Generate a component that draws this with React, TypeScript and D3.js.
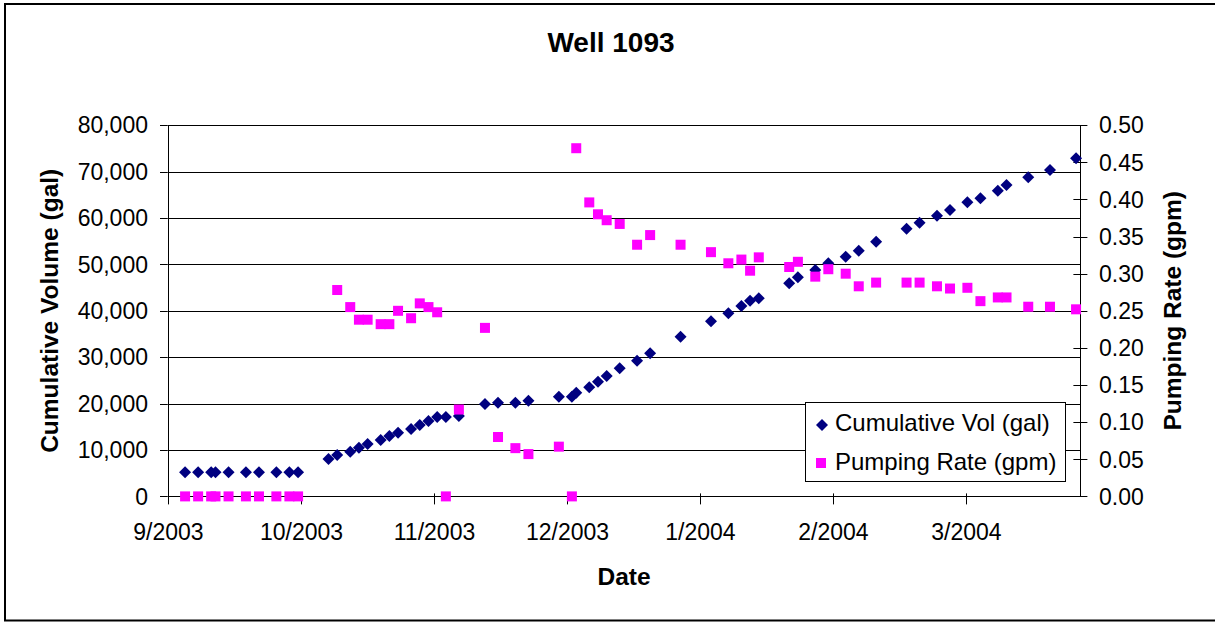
import React from "react";
import * as d3 from "d3";

// Sampling dates for Well 1093
const sampleDates: string[] = [
  "2003-09-05", "2003-09-08", "2003-09-11", "2003-09-12", "2003-09-15",
  "2003-09-19", "2003-09-22", "2003-09-26", "2003-09-29", "2003-10-01",
  "2003-10-08", "2003-10-10", "2003-10-13", "2003-10-15", "2003-10-17",
  "2003-10-20", "2003-10-22", "2003-10-24", "2003-10-27", "2003-10-29",
  "2003-10-31", "2003-11-02", "2003-11-04", "2003-11-07", "2003-11-13",
  "2003-11-16", "2003-11-20", "2003-11-23", "2003-11-30", "2003-12-03",
  "2003-12-04", "2003-12-07", "2003-12-09", "2003-12-11", "2003-12-14",
  "2003-12-18", "2003-12-21", "2003-12-28", "2004-01-04", "2004-01-08",
  "2004-01-11", "2004-01-13", "2004-01-15", "2004-01-22", "2004-01-24",
  "2004-01-28", "2004-01-31", "2004-02-04", "2004-02-07", "2004-02-11",
  "2004-02-18", "2004-02-21", "2004-02-25", "2004-02-28", "2004-03-03",
  "2004-03-06", "2004-03-10", "2004-03-12", "2004-03-17", "2004-03-22",
  "2004-03-28",
];

// Cumulative Vol (gal)
const cumulativeVolume: number[] = [
  5200, 5200, 5200, 5200, 5200, 5200, 5200, 5200, 5200, 5200,
  8060, 8920, 9630, 10490, 11290, 12150, 13010, 13730, 14520, 15380,
  16250, 17100, 17100, 17330, 19900, 20190, 20190, 20620, 21490, 21490,
  22350, 23510, 24720, 25950, 27600, 29240, 30840, 34420, 37730, 39460,
  41030, 42170, 42690, 45920, 47220, 48790, 50230, 51660, 52950, 54890,
  57690, 58980, 60490, 61720, 63380, 64240, 65880, 67110, 68770, 70340,
  72860,
];

// Pumping Rate (gpm); null where no rate was computed
const pumpingRate: (number | null)[] = [
  0, 0, 0, 0, 0, 0, 0, 0, 0, 0,
  null, 0.278, 0.255, 0.238, 0.238, 0.232, 0.232, 0.25, 0.24, 0.26,
  0.255, 0.248, 0, 0.117, 0.227, 0.08, 0.065, 0.057, 0.067, 0,
  0.469, 0.396, 0.38, 0.372, 0.367, 0.339, 0.352, 0.339, 0.329, 0.314,
  0.319, 0.304, 0.322, 0.309, 0.316, 0.296, 0.306, 0.3, 0.283, 0.288,
  0.288, 0.288, 0.283, 0.28, 0.281, 0.263, 0.268, 0.268, 0.2555, 0.2555,
  0.252,
];

const dateTickLabels: string[] = ["9/2003", "10/2003", "11/2003", "12/2003", "1/2004", "2/2004", "3/2004"];
const volumeTicks: number[] = [0, 10000, 20000, 30000, 40000, 50000, 60000, 70000, 80000];
const rateTicks: number[] = [0, 0.05, 0.1, 0.15, 0.2, 0.25, 0.3, 0.35, 0.4, 0.45, 0.5];

const AXIS_START = Date.UTC(2003, 8, 1);
const AXIS_SPAN_DAYS = 210;
const TICK_STEP_DAYS = 30.6;

const dayOffset = (s: string) => (Date.parse(s + "T00:00:00Z") - AXIS_START) / 86400000;

const W = 1215;
const H = 623;
const plot = { left: 167.7, right: 1080.4, top: 125.2, bottom: 496.4 };
const FONT = "Arial, 'Liberation Sans', Helvetica, sans-serif";
const NAVY = "#000080";
const MAGENTA = "#FF00FF";
const TICK_FONT = 23;
const LABEL_FONT = 24.5;

const diamond = (r: number) => `M0,${-r}L${r},0L0,${r}L${-r},0Z`;

export default function App() {
  const x = d3.scaleLinear().domain([0, AXIS_SPAN_DAYS]).range([plot.left, plot.right]);
  const yVol = d3.scaleLinear().domain([0, 80000]).range([plot.bottom, plot.top]);
  const yRate = d3.scaleLinear().domain([0, 0.5]).range([plot.bottom, plot.top]);
  const fmtVol = d3.format(",");
  const fmtRate = d3.format(".2f");

  const points = sampleDates.map((d, i) => ({
    day: dayOffset(d),
    vol: cumulativeVolume[i],
    rate: pumpingRate[i],
  }));

  const cx = (plot.left + plot.right) / 2;
  const cy = (plot.top + plot.bottom) / 2;
  const snap = (v: number) => Math.round(v) + 0.5;

  return (
    <svg width={W} height={H} style={{ position: "absolute", left: 0, top: 0, background: "#fff" }} fontFamily={FONT}>
      <rect x={0} y={0} width={W} height={H} fill="#fff" />
      {/* chart frame */}
      <rect x={5} y={4} width={1215} height={616.5} fill="none" stroke="#000" strokeWidth={2} />

      <text x={611} y={52} textAnchor="middle" fontSize={28} fontWeight="bold">Well 1093</text>

      {/* horizontal gridlines */}
      {volumeTicks.filter((t) => t > 0).map((t) => (
        <line key={`g${t}`} x1={plot.left} x2={plot.right} y1={snap(yVol(t))} y2={snap(yVol(t))} stroke="#000" strokeWidth={1} />
      ))}

      {/* left axis */}
      <line x1={snap(plot.left)} x2={snap(plot.left)} y1={plot.top} y2={plot.bottom} stroke="#000" />
      {volumeTicks.map((t) => (
        <g key={`l${t}`}>
          <line x1={160} x2={plot.left} y1={snap(yVol(t))} y2={snap(yVol(t))} stroke="#000" />
          <text x={148} y={yVol(t)} dy="0.36em" textAnchor="end" fontSize={TICK_FONT}>{fmtVol(t)}</text>
        </g>
      ))}

      {/* right axis */}
      <line x1={snap(plot.right)} x2={snap(plot.right)} y1={plot.top} y2={plot.bottom} stroke="#000" />
      {rateTicks.map((t) => (
        <g key={`r${t}`}>
          <line x1={plot.right - 7} x2={plot.right + 7} y1={snap(yRate(t))} y2={snap(yRate(t))} stroke="#000" />
          <text x={1099} y={yRate(t)} dy="0.36em" textAnchor="start" fontSize={TICK_FONT}>{fmtRate(t)}</text>
        </g>
      ))}

      {/* bottom axis */}
      <line x1={plot.left} x2={plot.right} y1={snap(plot.bottom)} y2={snap(plot.bottom)} stroke="#000" />
      {dateTickLabels.map((lab, i) => {
        const px = snap(x(i * TICK_STEP_DAYS));
        return (
          <g key={lab}>
            <line x1={px} x2={px} y1={plot.bottom - 3} y2={plot.bottom + 8} stroke="#000" />
            <text x={px} y={540} textAnchor="middle" fontSize={TICK_FONT}>{lab}</text>
          </g>
        );
      })}

      {/* axis titles */}
      <text x={cx} y={585} textAnchor="middle" fontSize={LABEL_FONT} fontWeight="bold">Date</text>
      <text transform={`translate(49,${cy}) rotate(-90)`} textAnchor="middle" dy="0.36em" fontSize={LABEL_FONT} fontWeight="bold">
        Cumulative Volume (gal)
      </text>
      <text transform={`translate(1172,${cy}) rotate(-90)`} textAnchor="middle" dy="0.36em" fontSize={LABEL_FONT} fontWeight="bold">
        Pumping Rate (gpm)
      </text>

      {/* Cumulative volume series */}
      {points.map((p, i) => (
        <path key={`v${i}`} d={diamond(6)} transform={`translate(${x(p.day)},${yVol(p.vol)})`} fill={NAVY} />
      ))}

      {/* Pumping rate series */}
      {points.filter((p) => p.rate !== null).map((p, i) => (
        <rect key={`p${i}`} x={x(p.day) - 5} y={yRate(p.rate as number) - 5} width={10} height={10} fill={MAGENTA} />
      ))}

      {/* legend */}
      <g>
        <rect x={805.5} y={402.5} width={260} height={79} fill="#fff" stroke="#000" strokeWidth={1} />
        <path d={diamond(6)} transform="translate(822,425)" fill={NAVY} />
        <text x={835} y={431} fontSize={24}>Cumulative Vol (gal)</text>
        <rect x={816} y={458} width={10} height={10} fill={MAGENTA} />
        <text x={835} y={470} fontSize={24}>Pumping Rate (gpm)</text>
      </g>
    </svg>
  );
}
